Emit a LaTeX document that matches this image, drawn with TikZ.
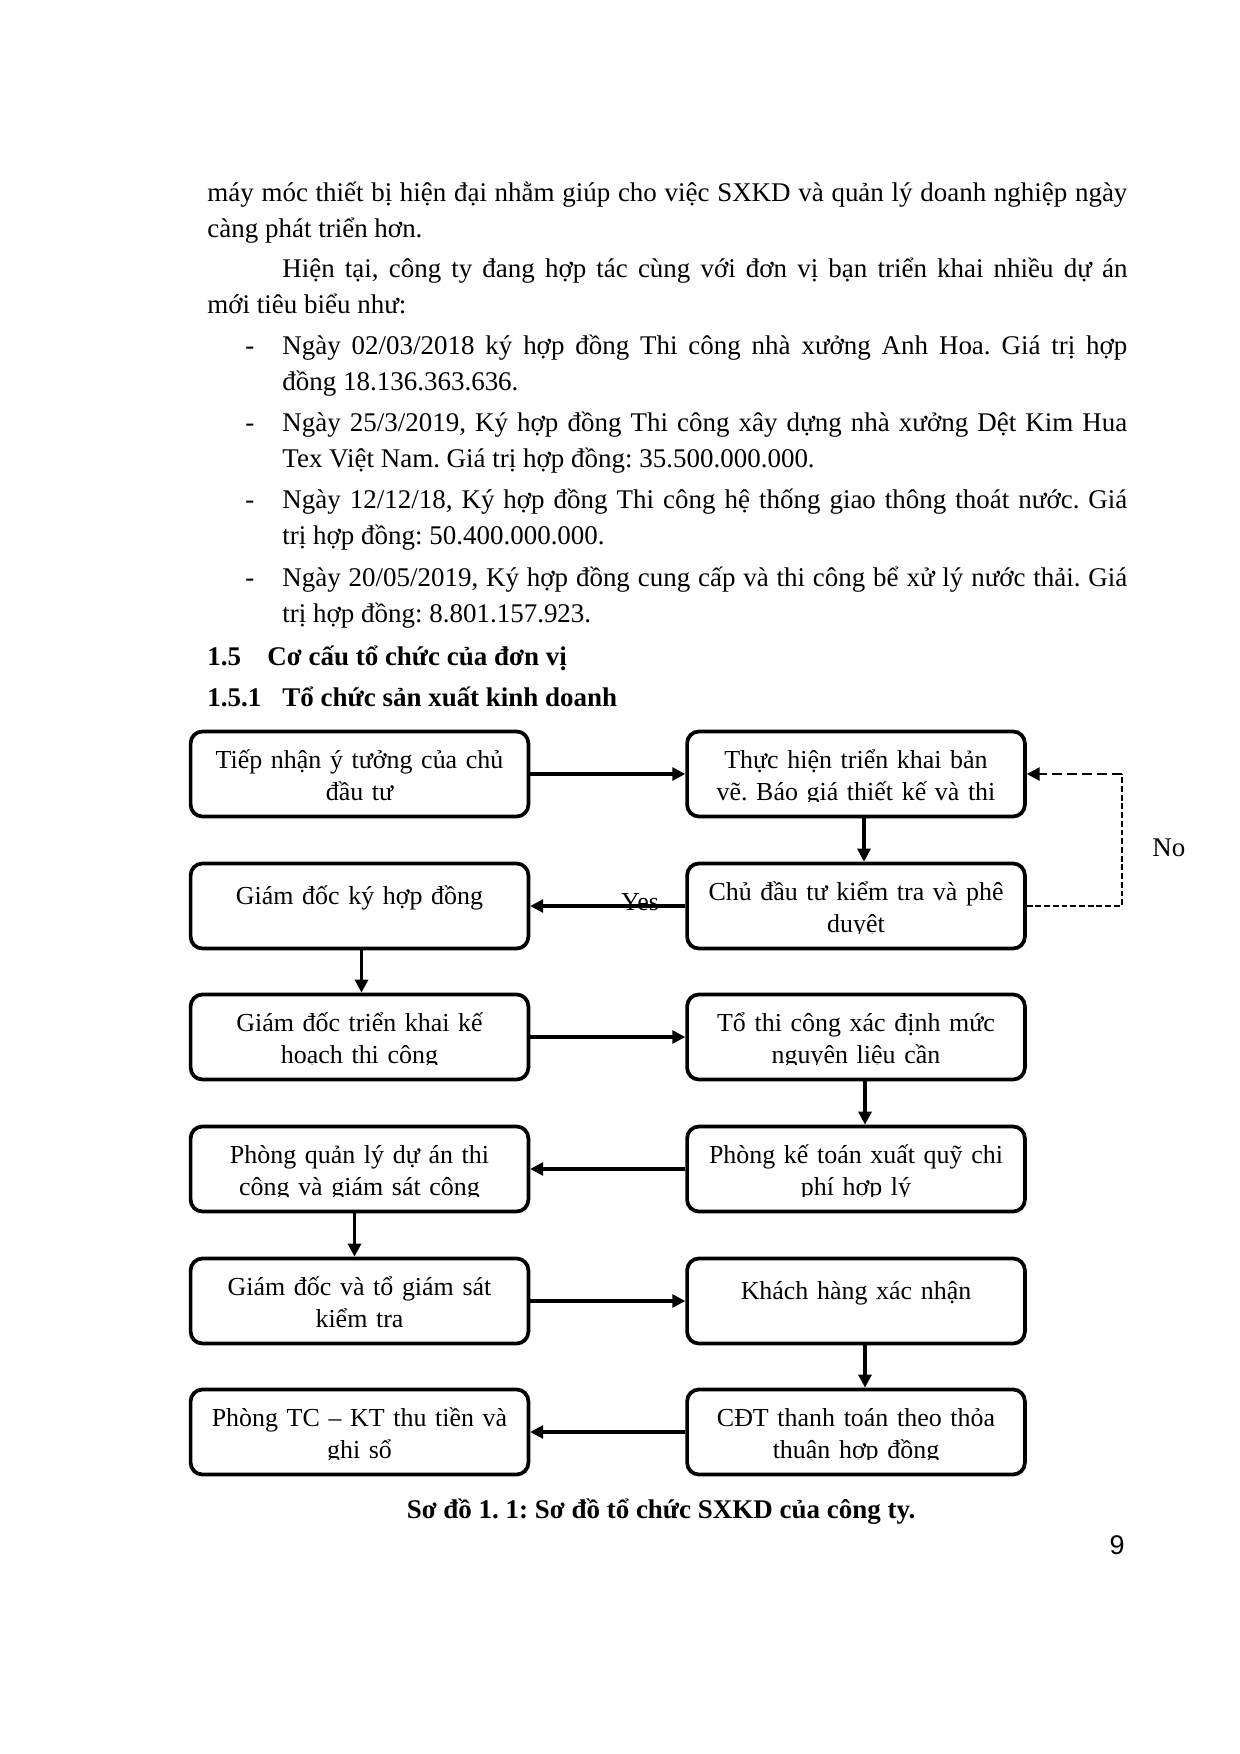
\documentclass[tikz,border=0pt]{standalone}
\usepackage{fontspec}
\setmainfont{Liberation Serif}
\newfontfamily\pagenumfont{Liberation Sans}
\usepackage{tikz}
\usetikzlibrary{arrows.meta, positioning}

% one pixel of the page
\newcommand{\pxu}{0.16935mm}

\tikzset{
    stepbox/.style={draw, line width=1.8pt, rounded corners=2mm, minimum width=57.2mm, minimum height=14.4mm, inner sep=0pt},
    steptext/.style={anchor=base, align=center, text width=58mm, inner sep=0pt, font=\fontsize{12.5pt}{15.2pt}\selectfont},
    flow/.style={-{Triangle[length=2.2mm,width=2.2mm]}, line width=1.5pt},
    nothin/.style={line width=0.8pt, dash pattern=on 2.8pt off 1.4pt},
    nothick/.style={line width=1.4pt, dash pattern=on 4.8pt off 2.4pt},
    bodytext/.style={anchor=base west, align=justify, inner sep=0pt, font=\fontsize{13pt}{17.8pt}\selectfont},
    headtext/.style={anchor=base west, inner sep=0pt, font=\fontsize{13pt}{17.8pt}\selectfont\bfseries},
    labeltext/.style={anchor=base, inner sep=0pt, font=\fontsize{12.5pt}{15.2pt}\selectfont},
}

% box with its text, clipped like a text frame
\newcommand{\flowstep}[4]{%
    \node[stepbox] (#1) at (#2) {};
    \begin{scope}
        \clip (#1.north west) rectangle ([yshift=17*\pxu]#1.south east);
        \node[steptext] (#1-text) at ([yshift=-#4*\pxu]#1.north) {#3};
    \end{scope}}

\frenchspacing

\begin{document}
\begin{tikzpicture}[x=\pxu, y=-\pxu]
    \fill[white] (0,0) rectangle (1240,1754);
    \useasboundingbox (0,0) rectangle (1240,1754);

    % text above the chart
    \node[bodytext, text width=155.8mm] (para1) at (207,201) {máy móc thiết bị hiện đại nhằm giúp cho việc SXKD và quản lý doanh nghiệp ngày\linebreak càng phát triển hơn.};
    \node[bodytext, text width=155.8mm] (para2) at (207,277) {\hspace*{12.7mm}Hiện tại, công ty đang hợp tác cùng với đơn vị bạn triển khai nhiều dự án\linebreak mới tiêu biểu như:};
    \foreach \y in {354,431,508,586}
        \node[bodytext] (dash\y) at (245,\y) {-};
    \node[bodytext, text width=143.1mm] (item1) at (282,354) {Ngày 02/03/2018 ký hợp đồng Thi công nhà xưởng Anh Hoa. Giá trị hợp\linebreak đồng 18.136.363.636.};
    \node[bodytext, text width=143.1mm] (item2) at (282,431) {Ngày 25/3/2019, Ký hợp đồng Thi công xây dựng nhà xưởng Dệt Kim Hua\linebreak Tex Việt Nam. Giá trị hợp đồng: 35.500.000.000.};
    \node[bodytext, text width=143.1mm] (item3) at (282,508) {Ngày 12/12/18, Ký hợp đồng Thi công hệ thống giao thông thoát nước. Giá\linebreak trị hợp đồng: 50.400.000.000.};
    \node[bodytext, text width=143.1mm] (item4) at (282,586) {Ngày 20/05/2019, Ký hợp đồng cung cấp và thi công bể xử lý nước thải. Giá\linebreak trị hợp đồng: 8.801.157.923.};

    % headings
    \node[headtext] (secnum) at (207,665) {1.5};
    \node[headtext] (sectitle) at (267,665) {Cơ cấu tổ chức của đơn vị};
    \node[headtext] (subnum) at (207,706) {1.5.1};
    \node[headtext] (subtitle) at (282,706) {Tổ chức sản xuất kinh doanh};

    % left column
    \flowstep{tiepnhan}{359.5,774}{Tiếp nhận ý tưởng của chủ\\đầu tư}{39}
    \flowstep{gdkyhd}{359.5,906}{Giám đốc ký hợp đồng}{43}
    \flowstep{gdtrienkhai}{359.5,1037}{Giám đốc triển khai kế\\hoạch thi công}{39}
    \flowstep{pqlda}{359.5,1169}{Phòng quản lý dự án thi\\công và giám sát công}{39}
    \flowstep{gdgiamsat}{359.5,1301}{Giám đốc và tổ giám sát\\kiểm tra}{39}
    \flowstep{ptckt}{359.5,1432}{Phòng TC – KT thu tiền và\\ghi sổ}{39}

    % right column
    \flowstep{thuchien}{856,774}{Thực hiện triển khai bản\\vẽ. Báo giá thiết kế và thi}{39}
    \flowstep{cdtkiemtra}{856,906}{Chủ đầu tư kiểm tra và phê\\duyệt}{39}
    \flowstep{tothicong}{856,1037}{Tổ thi công xác định mức\\nguyên liệu cần}{39}
    \flowstep{pketoan}{856,1169}{Phòng kế toán xuất quỹ chi\\phí hợp lý}{39}
    \flowstep{khachhang}{856,1301}{Khách hàng xác nhận}{43}
    \flowstep{cdtthanhtoan}{856,1432}{CĐT thanh toán theo thỏa\\thuận hợp đồng}{39}

    % arrows
    \draw[flow] (tiepnhan.east) -- (thuchien.west);
    \draw[flow] ([xshift=8*\pxu]thuchien.south) -- ([xshift=8*\pxu]cdtkiemtra.north);
    \draw[flow] (cdtkiemtra.west) -- (gdkyhd.east);
    \node[labeltext] (yes) at (640,910) {Yes};
    \draw[flow] ([xshift=2*\pxu]gdkyhd.south) -- ([xshift=2*\pxu]gdtrienkhai.north);
    \draw[flow] (gdtrienkhai.east) -- (tothicong.west);
    \draw[flow] ([xshift=9*\pxu]tothicong.south) -- ([xshift=9*\pxu]pketoan.north);
    \draw[flow] (pketoan.west) -- (pqlda.east);
    \draw[flow] ([xshift=-5*\pxu]pqlda.south) -- ([xshift=-5*\pxu]gdgiamsat.north);
    \draw[flow] (gdgiamsat.east) -- (khachhang.west);
    \draw[flow] ([xshift=9*\pxu]khachhang.south) -- ([xshift=9*\pxu]cdtthanhtoan.north);
    \draw[flow] (cdtthanhtoan.west) -- (ptckt.east);

    % rejected: back to drawing
    \draw[nothin] (cdtkiemtra.east) -| ([xshift=95*\pxu]thuchien.east) coordinate (noturn);
    \draw[flow, nothick] (noturn) -- (thuchien.east);
    \node[labeltext, anchor=base west, font=\fontsize{13pt}{15.2pt}\selectfont] (nolabel) at (1152,856) {No};

    % caption and page number
    \node[labeltext, font=\fontsize{13pt}{15.2pt}\selectfont\bfseries] (caption) at (661,1518) {Sơ đồ 1. 1: Sơ đồ tổ chức SXKD của công ty.};
    \node[anchor=base east, inner sep=0pt, font=\fontsize{13pt}{15pt}\pagenumfont] (pagenum) at (1125,1554) {9};
\end{tikzpicture}
\end{document}
